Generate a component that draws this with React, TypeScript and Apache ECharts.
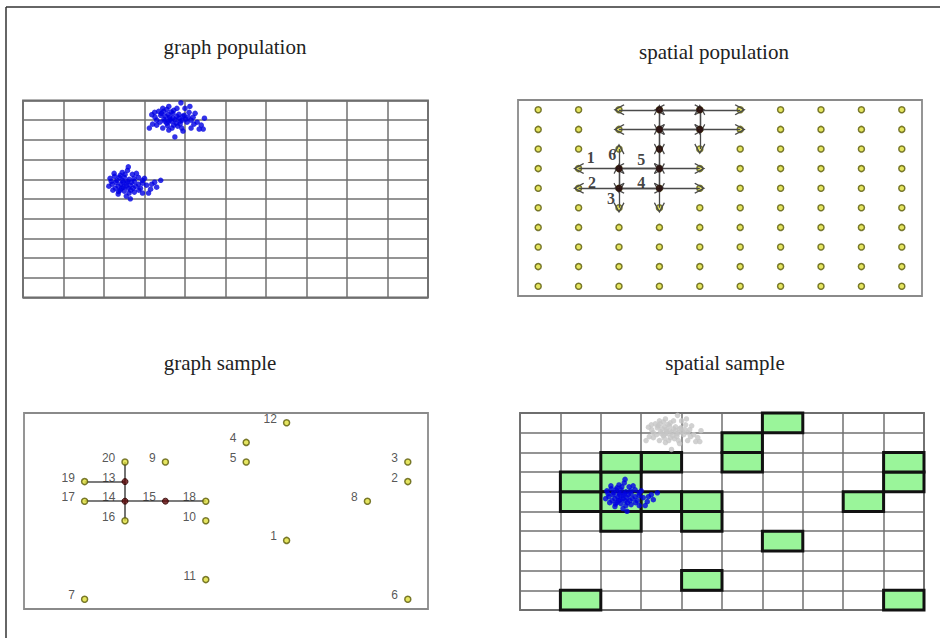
import React, { useEffect, useRef } from 'react';
import * as echarts from 'echarts';

// ---------- data ----------
const panelTitles: string[] = ['graph population', 'spatial population', 'graph sample', 'spatial sample'];

const gridCols = 10;
const gridRows = 10;

// population cluster A (x in cell units, y in rows from top)
const clusterA: number[][] = [
  [3.75, 0.98], [3.62, 0.85], [3.88, 1.05], [3.55, 1.15], [3.95, 0.8], [3.7, 0.65], [3.48, 0.95], [4.05, 1.1], [3.82, 1.3], [3.66, 1.05],
  [3.4, 0.75], [3.3, 1.0], [3.2, 1.2], [3.12, 1.4], [3.35, 0.55], [3.55, 0.45], [3.8, 0.4], [3.9, 0.12], [4.1, 0.6], [4.2, 0.85],
  [4.3, 1.1], [4.4, 1.25], [4.48, 0.9], [4.35, 1.45], [4.15, 1.4], [3.95, 1.55], [3.75, 1.85], [3.6, 1.5], [3.45, 1.4], [3.3, 1.25],
  [3.25, 0.6], [3.45, 0.4], [3.6, 0.3], [3.72, 0.5], [4.0, 0.4], [4.12, 0.3], [4.25, 0.65], [3.85, 0.9], [3.78, 1.15], [3.58, 0.7],
  [3.5, 1.05], [3.68, 1.4], [3.92, 1.4], [4.02, 0.95], [4.22, 1.2], [3.38, 1.1], [3.42, 0.65], [3.52, 0.8], [3.63, 0.95], [3.72, 1.25],
  [3.85, 0.7], [3.98, 0.75], [4.08, 0.85], [3.88, 1.18], [3.66, 0.58], [3.26, 0.85], [3.18, 0.72], [4.45, 1.45], [3.57, 1.28], [3.8, 0.8],
  [3.7, 0.9], [3.93, 1.0], [3.47, 0.55], [4.15, 1.0], [3.6, 1.05],
];

// population cluster B
const clusterB: number[][] = [
  [2.55, 4.2], [2.45, 4.05], [2.65, 4.3], [2.35, 4.35], [2.75, 4.1], [2.5, 3.9], [2.3, 4.15], [2.85, 4.25], [2.6, 4.45], [2.4, 4.55],
  [2.2, 4.25], [2.15, 3.95], [2.25, 3.7], [2.45, 3.65], [2.6, 3.37], [2.7, 3.75], [2.85, 3.9], [2.95, 4.05], [3.05, 4.3], [3.15, 4.5],
  [3.25, 4.15], [3.4, 4.05], [3.1, 4.7], [2.95, 4.7], [2.75, 4.65], [2.55, 4.85], [2.65, 4.99], [2.35, 4.75], [2.22, 4.55], [2.12, 4.35],
  [2.38, 3.9], [2.52, 3.75], [2.62, 4.0], [2.72, 4.45], [2.48, 4.4], [2.58, 4.1], [2.42, 4.25], [2.32, 4.05], [2.68, 4.15], [2.78, 4.35],
  [2.9, 4.45], [3.0, 3.95], [2.8, 3.7], [2.28, 4.45], [2.18, 4.1], [2.5, 4.6], [2.62, 4.7], [2.86, 4.55], [3.18, 4.25], [2.4, 3.8],
  [2.55, 4.35], [2.47, 4.15], [2.66, 4.55], [2.36, 4.62], [2.74, 3.95], [2.95, 4.2], [3.3, 4.4], [2.58, 3.55], [2.26, 3.85], [2.44, 4.45],
];

// sample nodes: [label, column, row-from-top]
const sampleNodes: [string, number, number][] = [
  ['1', 6, 6], ['2', 9, 3], ['3', 9, 2], ['4', 5, 1], ['5', 5, 2],
  ['6', 9, 9], ['7', 1, 9], ['8', 8, 4], ['9', 3, 2], ['10', 4, 5],
  ['11', 4, 8], ['12', 6, 0], ['13', 2, 3], ['14', 2, 4], ['15', 3, 4],
  ['16', 2, 5], ['17', 1, 4], ['18', 4, 4], ['19', 1, 3], ['20', 2, 2],
];
const sampleDarkNodes: string[] = ['13', '14', '15'];
const sampleEdges: [string, string][] = [
  ['19', '13'], ['20', '13'], ['13', '14'], ['14', '16'], ['17', '14'], ['14', '15'], ['15', '18'],
];

// spatial population: dark (visited) nodes [column, row]
const popDarkNodes: [number, number][] = [
  [3, 0], [4, 0], [3, 1], [4, 1], [3, 2], [2, 3], [3, 3], [2, 4], [3, 4],
];
// arrows [fromCol, fromRow, toCol, toRow]
const popArrows: [number, number, number, number][] = [
  [3, 0, 2, 0], [3, 0, 4, 0], [4, 0, 3, 0], [4, 0, 5, 0],
  [3, 1, 2, 1], [3, 1, 4, 1], [4, 1, 3, 1], [4, 1, 5, 1],
  [3, 0, 3, 1], [3, 1, 3, 0], [3, 1, 3, 2], [3, 2, 3, 1], [3, 2, 3, 3], [3, 3, 3, 2], [3, 3, 3, 4], [3, 4, 3, 3], [3, 4, 3, 5],
  [4, 0, 4, 1], [4, 1, 4, 0], [4, 1, 4, 2],
  [2, 3, 1, 3], [2, 3, 3, 3], [3, 3, 2, 3], [3, 3, 4, 3],
  [2, 4, 1, 4], [2, 4, 3, 4], [3, 4, 2, 4], [3, 4, 4, 4],
  [2, 3, 2, 2], [2, 3, 2, 4], [2, 4, 2, 3], [2, 4, 2, 5],
];
// wave labels [x, y, text]
const popArrowLabels: [number, number, string][] = [
  [1.8, 2.95, '1'], [1.83, 4.2, '2'], [2.3, 5.0, '3'], [3.05, 4.2, '4'], [3.05, 3.05, '5'], [2.33, 2.8, '6'],
];

// ---------- layout ----------
const gridBoxes = [
  { left: 23, top: 100.5, width: 405, height: 197 },
  { left: 518, top: 100, width: 404, height: 196 },
  { left: 24, top: 413, width: 404, height: 196 },
  { left: 520, top: 413, width: 404, height: 197 },
];
const titlePos = [
  [235, 47],
  [714, 52],
  [220, 363],
  [725, 363],
];

const arrowHead = 'path://M5,0 L10,9.2 L9.1,10 L5,2.6 L0.9,10 L0,9.2 Z';
const arrowColor = '#4a4a4a';

const App: React.FC = () => {
  const ref = useRef<HTMLDivElement>(null);

  useEffect(() => {
    if (!ref.current) return;
    const chart = echarts.init(ref.current, undefined, { renderer: 'svg' });

    const cellCenter = (c: number, r: number) => [c + 0.5, r + 0.5];
    const nodeByLabel: Record<string, number[]> = {};
    sampleNodes.forEach(([l, c, r]) => { nodeByLabel[l] = cellCenter(c, r); });

    const allCells: number[][] = [];
    for (let c = 0; c < gridCols; c++) {
      for (let r = 0; r < gridRows; r++) allCells.push(cellCenter(c, r));
    }

    const yellowStyle = { color: '#dede3a', borderColor: '#5a5a08', borderWidth: 1.5 };

    const xAxes = gridBoxes.map((_, i) => ({
      gridIndex: i, type: 'value', min: 0, max: gridCols, interval: 1,
      axisLine: { show: false }, axisTick: { show: false }, axisLabel: { show: false },
      splitLine: { show: i === 0 || i === 3, lineStyle: { color: '#707070', width: 1.5 } },
    }));
    const yAxes = gridBoxes.map((_, i) => ({
      gridIndex: i, type: 'value', min: 0, max: gridRows, interval: 1, inverse: true,
      axisLine: { show: false }, axisTick: { show: false }, axisLabel: { show: false },
      splitLine: { show: i === 0 || i === 3, lineStyle: { color: '#707070', width: 1.5 } },
    }));

    const option: any = {
      animation: false,
      backgroundColor: '#ffffff',
      grid: gridBoxes.map((g, i) => ({
        ...g, show: true, backgroundColor: 'transparent',
        borderColor: i === 0 || i === 3 ? '#6a6a6a' : '#8a8a8a', borderWidth: 1.8,
      })),
      xAxis: xAxes,
      yAxis: yAxes,
      graphic: [
        { type: 'line', shape: { x1: 6, y1: 7, x2: 940, y2: 7 }, style: { stroke: '#333', lineWidth: 1.5 } },
        { type: 'line', shape: { x1: 6, y1: 7, x2: 6, y2: 638 }, style: { stroke: '#333', lineWidth: 1.5 } },
        ...panelTitles.map((t, i) => ({
          type: 'text', x: titlePos[i][0], y: titlePos[i][1],
          style: {
            text: t, fontSize: 21, fontFamily: '"Liberation Serif", serif', fill: '#222',
            align: 'center', verticalAlign: 'middle', textAlign: 'center', textVerticalAlign: 'middle',
          },
        })),
      ],
      series: [
        // graph population
        {
          type: 'scatter', xAxisIndex: 0, yAxisIndex: 0, data: clusterA, symbolSize: 5.5,
          itemStyle: { color: '#0000e2' }, z: 5,
        },
        {
          type: 'scatter', xAxisIndex: 0, yAxisIndex: 0, data: clusterB, symbolSize: 5.5,
          itemStyle: { color: '#0000e2' }, z: 5,
        },
        // spatial population
        {
          type: 'scatter', xAxisIndex: 1, yAxisIndex: 1, data: allCells, symbolSize: 6,
          itemStyle: yellowStyle, z: 3,
        },
        {
          type: 'lines', coordinateSystem: 'cartesian2d', xAxisIndex: 1, yAxisIndex: 1,
          color: arrowColor,
          data: popArrows.map(([c1, r1, c2, r2]) => ({ coords: [cellCenter(c1, r1), cellCenter(c2, r2)] })),
          symbol: ['none', arrowHead], symbolSize: 11,
          lineStyle: { color: arrowColor, width: 1.3, opacity: 1 }, z: 4,
        },
        {
          type: 'scatter', xAxisIndex: 1, yAxisIndex: 1,
          data: popDarkNodes.map(([c, r]) => cellCenter(c, r)), symbolSize: 7,
          itemStyle: { color: '#240606' }, z: 5,
        },
        {
          type: 'scatter', xAxisIndex: 1, yAxisIndex: 1, symbolSize: 0,
          data: popArrowLabels.map(([x, y, t]) => ({ value: [x, y], name: t })),
          label: {
            show: true, position: 'inside', formatter: '{b}', color: '#111',
            fontSize: 16, fontWeight: 'bold', fontFamily: '"Liberation Serif", serif',
            textBorderWidth: 0,
          },
          z: 6,
        },
        // graph sample
        {
          type: 'lines', coordinateSystem: 'cartesian2d', xAxisIndex: 2, yAxisIndex: 2,
          color: '#505050',
          data: sampleEdges.map(([a, b]) => ({ coords: [nodeByLabel[a], nodeByLabel[b]] })),
          symbol: 'none', lineStyle: { color: '#505050', width: 1.6, opacity: 1 }, z: 3,
        },
        {
          type: 'scatter', xAxisIndex: 2, yAxisIndex: 2, symbolSize: 6,
          data: sampleNodes.map(([l, c, r]) => ({
            name: l, value: cellCenter(c, r),
            itemStyle: sampleDarkNodes.includes(l)
              ? { color: '#5c0808', borderColor: '#2a0000', borderWidth: 1 }
              : yellowStyle,
          })),
          label: {
            show: true, position: 'left', distance: 6, offset: [0, -4], formatter: '{b}',
            color: '#2a2a2a', fontSize: 12, fontFamily: '"Liberation Sans", Arial, sans-serif',
            textBorderWidth: 0,
          },
          z: 5,
        },
        // spatial sample
        {
          type: 'custom', xAxisIndex: 3, yAxisIndex: 3,
          data: sampleNodes.map(([, c, r]) => [c, r]),
          encode: { x: 0, y: 1 },
          renderItem: (_p: any, api: any) => {
            const c = api.value(0);
            const r = api.value(1);
            const p0 = api.coord([c, r]);
            const p1 = api.coord([c + 1, r + 1]);
            return {
              type: 'rect',
              shape: {
                x: Math.min(p0[0], p1[0]), y: Math.min(p0[1], p1[1]),
                width: Math.abs(p1[0] - p0[0]), height: Math.abs(p1[1] - p0[1]),
              },
              style: { fill: '#9af59a', stroke: '#111111', lineWidth: 3 },
            };
          },
          z: 3,
        },
        {
          type: 'scatter', xAxisIndex: 3, yAxisIndex: 3, data: clusterA, symbolSize: 5.5,
          itemStyle: { color: '#c6c6c6' }, z: 5,
        },
        {
          type: 'scatter', xAxisIndex: 3, yAxisIndex: 3, data: clusterB, symbolSize: 5.5,
          itemStyle: { color: '#0000e2' }, z: 5,
        },
      ],
    };

    chart.setOption(option);
    return () => chart.dispose();
  }, []);

  return (
    <div
      ref={ref}
      style={{ position: 'fixed', left: 0, top: 0, width: 940, height: 638, background: '#fff' }}
    />
  );
};

export default App;
